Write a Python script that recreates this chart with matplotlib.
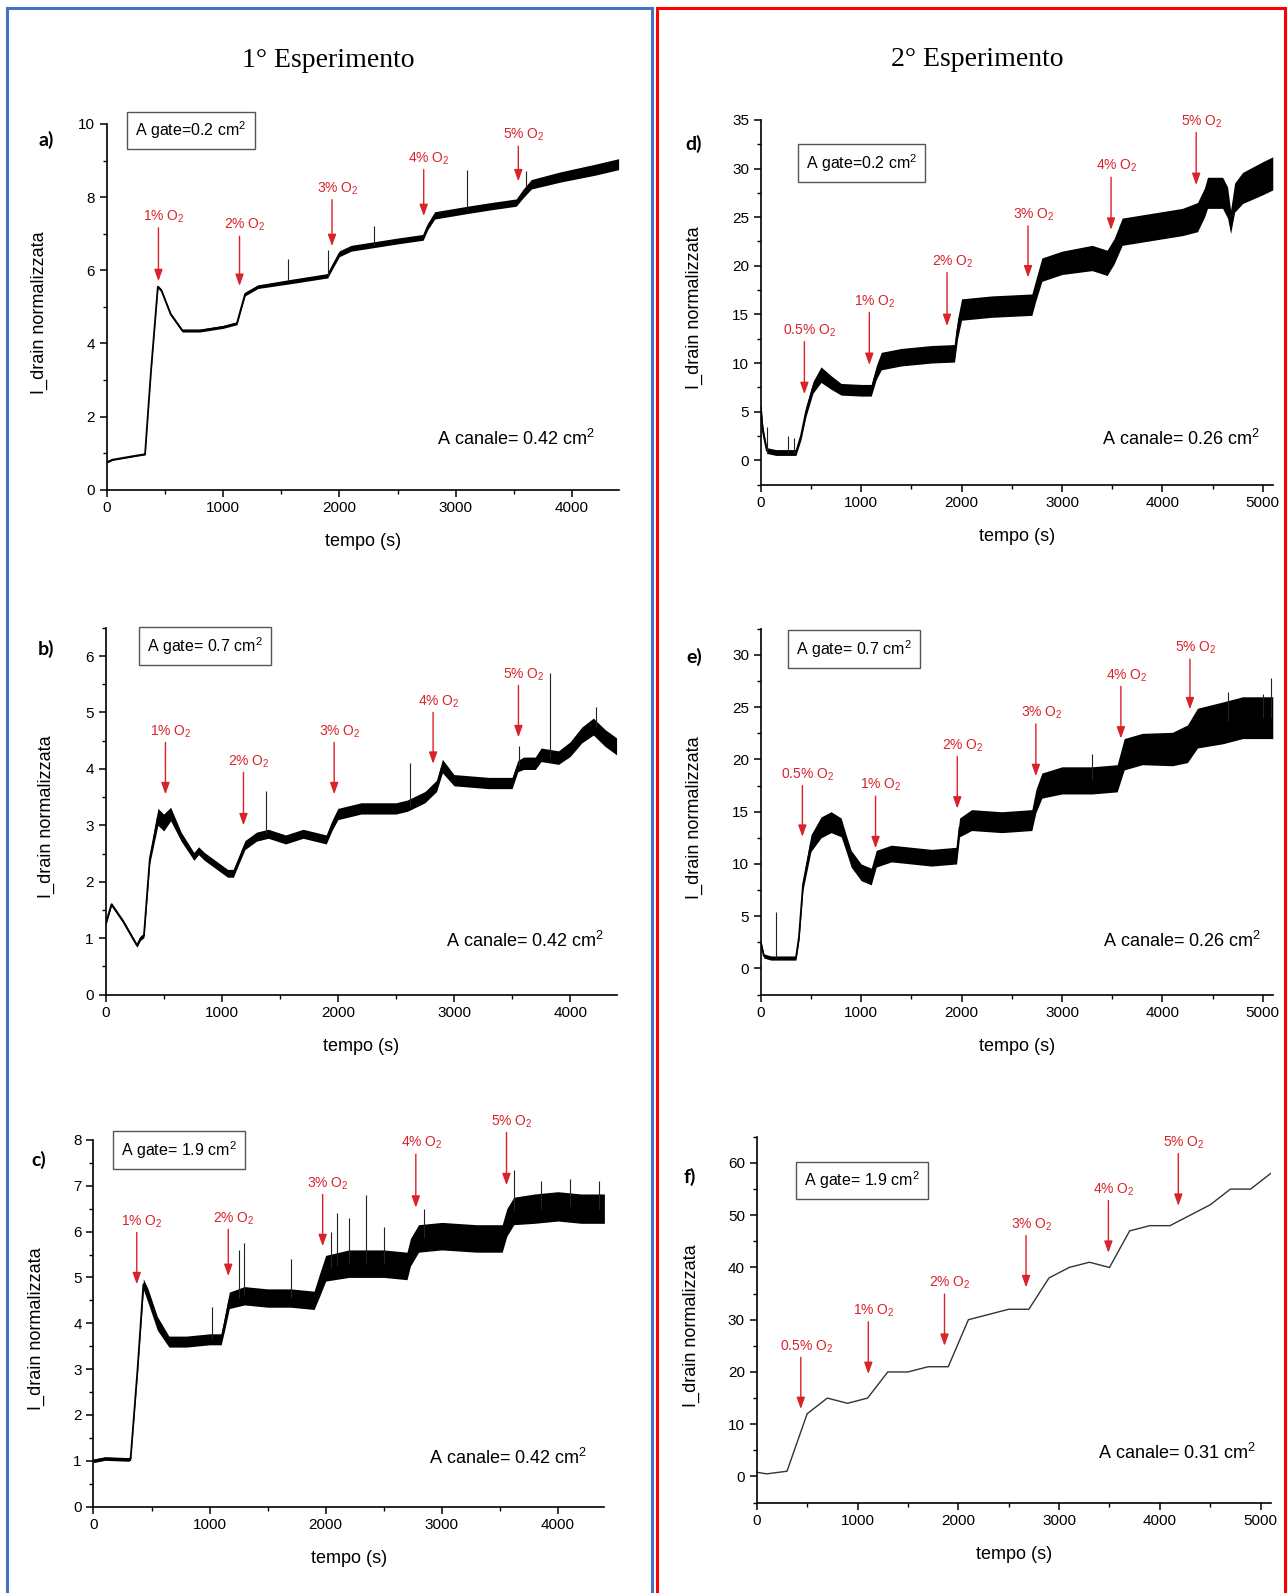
import numpy as np
import matplotlib
matplotlib.use('Agg')
import matplotlib.pyplot as plt
from matplotlib.patches import Rectangle
from matplotlib.ticker import MultipleLocator

plt.rcParams['font.family'] = ['Liberation Sans', 'DejaVu Sans']
plt.rcParams['mathtext.fontset'] = 'custom'
plt.rcParams['mathtext.rm'] = 'Liberation Sans'
plt.rcParams['mathtext.it'] = 'Liberation Sans:italic'
plt.rcParams['mathtext.default'] = 'regular'

# ---- pannello a) ----
a_t = [0, 50, 250, 330, 380, 440, 470, 550, 650, 800, 1000, 1120, 1150, 1190, 1300, 1600, 1900,
       1940, 2000, 2100, 2300, 2500, 2720, 2760, 2820, 3100, 3300, 3520, 3580, 3650, 3900, 4200, 4400]
a_i = [0.75, 0.82, 0.93, 0.97, 3.2, 5.55, 5.45, 4.8, 4.35, 4.35, 4.45, 4.55, 4.9, 5.35, 5.55, 5.7, 5.85,
       6.1, 6.45, 6.6, 6.7, 6.8, 6.9, 7.2, 7.5, 7.65, 7.75, 7.85, 8.1, 8.35, 8.55, 8.75, 8.9]
a_amp = [0.02, 0.02, 0.02, 0.02, 0.03, 0.04, 0.04, 0.04, 0.04, 0.04, 0.04, 0.04, 0.05, 0.05, 0.05, 0.06, 0.06,
         0.07, 0.08, 0.08, 0.08, 0.08, 0.08, 0.09, 0.1, 0.1, 0.1, 0.1, 0.12, 0.13, 0.14, 0.15, 0.15]
a_spk_t = [1560, 1900, 2300, 3100, 3600]
a_spk_lo = [5.7, 5.85, 6.7, 7.65, 8.3]
a_spk_hi = [6.3, 6.55, 7.2, 8.75, 8.7]
a_arr_lab = ['1% O$_2$', '2% O$_2$', '3% O$_2$', '4% O$_2$', '5% O$_2$']
a_arr_x = [445, 1142, 1937, 2725, 3538]
a_arr_top = [7.16, 6.93, 7.93, 8.75, 9.39]
a_arr_tip = [5.7, 5.57, 6.66, 7.48, 8.43]

# ---- pannello b) ----
b_t = [0, 50, 150, 270, 300, 330, 380, 450, 500, 560, 650, 760, 800, 850, 950, 1050, 1100, 1150, 1200, 1300,
       1400, 1550, 1700, 1900, 1950, 2000, 2200, 2500, 2600, 2750, 2850, 2900, 3000, 3300, 3500, 3550, 3600,
       3700, 3750, 3900, 4000, 4100, 4200, 4300, 4400]
b_i = [1.25, 1.6, 1.3, 0.87, 1.0, 1.05, 2.4, 3.15, 3.05, 3.2, 2.8, 2.45, 2.55, 2.45, 2.3, 2.15, 2.15, 2.4, 2.65, 2.8,
       2.85, 2.75, 2.85, 2.75, 3.0, 3.2, 3.3, 3.3, 3.35, 3.5, 3.7, 4.05, 3.8, 3.75, 3.75, 4.05, 4.1,
       4.1, 4.25, 4.2, 4.35, 4.6, 4.75, 4.55, 4.4]
b_amp = [0.03, 0.03, 0.03, 0.03, 0.04, 0.04, 0.08, 0.15, 0.15, 0.12, 0.08, 0.07, 0.07, 0.07, 0.07, 0.07, 0.07, 0.07, 0.08, 0.08,
         0.08, 0.08, 0.08, 0.08, 0.09, 0.1, 0.1, 0.1, 0.1, 0.1, 0.1, 0.12, 0.1, 0.1, 0.1, 0.1, 0.11,
         0.11, 0.12, 0.12, 0.13, 0.14, 0.15, 0.15, 0.15]
b_spk_t = [1380, 2620, 3560, 3830, 4220]
b_spk_lo = [2.85, 3.35, 4.05, 4.2, 4.75]
b_spk_hi = [3.6, 4.1, 4.4, 5.7, 5.1]
b_arr_lab = ['1% O$_2$', '2% O$_2$', '3% O$_2$', '4% O$_2$', '5% O$_2$']
b_arr_x = [515, 1187, 1968, 2820, 3555]
b_arr_top = [4.47, 3.94, 4.47, 5.0, 5.48]
b_arr_tip = [3.55, 3.0, 3.55, 4.09, 4.56]

# ---- pannello c) ----
c_t = [0, 100, 300, 320, 380, 430, 470, 550, 650, 800, 1000, 1100, 1130, 1170, 1300, 1500, 1700, 1900, 1950, 2000,
       2200, 2500, 2700, 2730, 2800, 3000, 3300, 3520, 3560, 3620, 3800, 4000, 4200, 4400]
c_i = [1.0, 1.05, 1.03, 1.05, 3.0, 4.85, 4.6, 4.0, 3.6, 3.6, 3.65, 3.65, 4.0, 4.5, 4.6, 4.55, 4.55, 4.5, 4.85, 5.2,
       5.3, 5.3, 5.25, 5.55, 5.85, 5.9, 5.85, 5.85, 6.2, 6.45, 6.5, 6.55, 6.5, 6.5]
c_amp = [0.04, 0.04, 0.04, 0.04, 0.05, 0.12, 0.15, 0.15, 0.12, 0.12, 0.12, 0.12, 0.15, 0.18, 0.2, 0.2, 0.2, 0.2, 0.25, 0.28,
         0.3, 0.3, 0.3, 0.3, 0.3, 0.3, 0.3, 0.3, 0.3, 0.3, 0.32, 0.32, 0.32, 0.32]
c_spk_t = [1020, 1250, 1300, 1700, 2050, 2100, 2200, 2350, 2500, 2850, 3620, 3850, 4100, 4350]
c_spk_lo = [3.65, 4.55, 4.6, 4.55, 5.2, 5.25, 5.3, 5.3, 5.3, 5.85, 6.45, 6.5, 6.55, 6.5]
c_spk_hi = [4.35, 5.6, 5.75, 5.4, 6.0, 6.4, 6.3, 6.8, 6.1, 6.5, 7.35, 7.1, 7.15, 7.1]
c_arr_lab = ['1% O$_2$', '2% O$_2$', '3% O$_2$', '4% O$_2$', '5% O$_2$']
c_arr_x = [373, 1161, 1974, 2776, 3557]
c_arr_top = [5.98, 6.05, 6.81, 7.69, 8.16]
c_arr_tip = [4.85, 5.03, 5.68, 6.52, 7.01]

# ---- pannello d) ----
d_t = [0, 20, 60, 150, 350, 400, 450, 520, 600, 700, 800, 1000, 1100, 1150, 1200, 1400, 1700, 1930, 1960, 2000,
       2300, 2700, 2740, 2800, 3000, 3300, 3450, 3520, 3600, 3900, 4200, 4350, 4420, 4450, 4600, 4650, 4680,
       4720, 4800, 5000, 5100]
d_i = [5.5, 3.0, 1.0, 0.8, 0.8, 2.5, 5.0, 7.5, 8.8, 8.0, 7.3, 7.2, 7.2, 9.0, 10.2, 10.6, 10.9, 11.0, 13.5, 15.5,
       15.8, 16.0, 17.5, 19.6, 20.3, 20.8, 20.3, 21.5, 23.5, 24.0, 24.5, 25.0, 26.5, 27.5, 27.5, 26.5, 24.5,
       27.0, 28.0, 29.0, 29.5]
d_amp = [0.3, 0.5, 0.3, 0.3, 0.3, 0.4, 0.5, 0.6, 0.8, 0.7, 0.6, 0.6, 0.6, 0.7, 0.9, 0.9, 0.9, 0.9, 1.0, 1.1,
         1.1, 1.1, 1.1, 1.2, 1.2, 1.3, 1.3, 1.3, 1.4, 1.4, 1.4, 1.5, 1.5, 1.6, 1.6, 1.6, 1.2,
         1.5, 1.6, 1.7, 1.7]
d_spk_t = [65, 270, 330]
d_spk_lo = [0.8, 0.8, 0.8]
d_spk_hi = [3.4, 2.5, 2.3]
d_arr_lab = ['0.5% O$_2$', '1% O$_2$', '2% O$_2$', '3% O$_2$', '4% O$_2$', '5% O$_2$']
d_arr_x = [434, 1081, 1855, 2662, 3489, 4337]
d_arr_top = [12.2, 15.2, 19.3, 24.1, 29.1, 33.7]
d_arr_tip = [6.8, 9.8, 13.8, 18.8, 23.7, 28.3]

# ---- pannello e) ----
e_t = [0, 30, 100, 350, 380, 420, 500, 600, 700, 800, 850, 900, 1000, 1100, 1150, 1300, 1500, 1700, 1950, 1980,
       2100, 2400, 2700, 2740, 2800, 3000, 3300, 3550, 3620, 3800, 4100, 4250, 4350, 4600, 4800, 5100]
e_i = [2.5, 1.2, 1.0, 1.0, 3.0, 8.0, 12.0, 13.5, 14.0, 13.5, 12.0, 10.5, 9.2, 8.8, 10.5, 11.0, 10.8, 10.6, 10.8, 13.5,
       14.2, 14.0, 14.2, 16.0, 17.5, 18.0, 18.0, 18.2, 20.5, 21.0, 21.0, 21.5, 23.0, 23.5, 24.0, 24.0]
e_amp = [0.2, 0.2, 0.2, 0.2, 0.3, 0.5, 0.8, 1.0, 1.0, 0.9, 0.8, 0.8, 0.8, 0.8, 0.8, 0.8, 0.8, 0.8, 0.8, 0.9,
         1.0, 1.0, 1.0, 1.1, 1.2, 1.3, 1.3, 1.3, 1.5, 1.5, 1.6, 1.8, 1.9, 2.0, 2.0, 2.0]
e_spk_t = [150, 3300, 4650, 5000, 5080]
e_spk_lo = [1.0, 18.0, 23.7, 24.0, 24.0]
e_spk_hi = [5.4, 20.5, 26.5, 26.3, 27.8]
e_arr_lab = ['0.5% O$_2$', '1% O$_2$', '2% O$_2$', '3% O$_2$', '4% O$_2$', '5% O$_2$']
e_arr_x = [414, 1143, 1957, 2740, 3587, 4275]
e_arr_top = [17.5, 16.5, 20.3, 23.4, 27.0, 29.6]
e_arr_tip = [12.6, 11.5, 15.3, 18.4, 22.0, 24.8]

# ---- pannello f) ----
f_t = [0, 100, 300, 500, 700, 900, 1100, 1300, 1500, 1700, 1900, 2100, 2300, 2500, 2700, 2900, 3100, 3300,
       3500, 3700, 3900, 4100, 4300, 4500, 4700, 4900, 5100]
f_i = [0.8, 0.5, 1, 12, 15, 14, 15, 20, 20, 21, 21, 30, 31, 32, 32, 38, 40, 41,
       40, 47, 48, 48, 50, 52, 55, 55, 58]
f_arr_lab = ['0.5% O$_2$', '1% O$_2$', '2% O$_2$', '3% O$_2$', '4% O$_2$', '5% O$_2$']
f_arr_x = [437, 1107, 1863, 2672, 3489, 4183]
f_arr_top = [22.8, 29.6, 34.9, 46.1, 52.8, 61.8]
f_arr_tip = [12.9, 19.6, 25.0, 36.2, 42.8, 51.8]

gate_lab = ['A gate=0.2 cm$^2$', 'A gate= 0.7 cm$^2$', 'A gate= 1.9 cm$^2$',
            'A gate=0.2 cm$^2$', 'A gate= 0.7 cm$^2$', 'A gate= 1.9 cm$^2$']
canale_lab = ['A canale= 0.42 cm$^2$', 'A canale= 0.42 cm$^2$', 'A canale= 0.42 cm$^2$',
              'A canale= 0.26 cm$^2$', 'A canale= 0.26 cm$^2$', 'A canale= 0.31 cm$^2$']

W, H = 1268.0, 1568.0
RED = '#d9232b'

fig = plt.figure(figsize=(12.88, 15.93), dpi=100)


def box(x0, y0, x1, y1):
    return [x0 / W, 1 - y1 / H, (x1 - x0) / W, (y1 - y0) / H]


# cornici blu e rossa
fig.patches.append(Rectangle((7 / W, -0.02), (642 - 7) / W, 1 - 8 / H + 0.02, transform=fig.transFigure,
                             fill=False, edgecolor='#4472c4', lw=2.2))
fig.patches.append(Rectangle((647 / W, -0.02), (1265 - 647) / W, 1 - 8 / H + 0.02, transform=fig.transFigure,
                             fill=False, edgecolor='#ff0000', lw=2.2))

fig.text(323 / W, 1 - 60 / H, '1° Esperimento', family='Liberation Serif', fontsize=20, ha='center', va='center')
fig.text(962 / W, 1 - 59 / H, '2° Esperimento', family='Liberation Serif', fontsize=20, ha='center', va='center')

panels = [
    dict(pos=(105, 122, 609, 482), t=a_t, i=a_i, amp=a_amp, spk=(a_spk_t, a_spk_lo, a_spk_hi),
         arr=(a_arr_lab, a_arr_x, a_arr_top, a_arr_tip), xlim=4400, ylim=(0, 10), ymaj=2, ymin=1,
         letter='a)', lpos=(45, 138), gate=(0.165, 0.982), can=(0.954, 0.138), ylx=-0.115),
    dict(pos=(104, 618, 607, 979), t=b_t, i=b_i, amp=b_amp, spk=(b_spk_t, b_spk_lo, b_spk_hi),
         arr=(b_arr_lab, b_arr_x, b_arr_top, b_arr_tip), xlim=4400, ylim=(0, 6.5), ymaj=1, ymin=0.5,
         letter='b)', lpos=(45, 639), gate=(0.194, 0.95), can=(0.976, 0.146), ylx=-0.099),
    dict(pos=(92, 1122, 595, 1483), t=c_t, i=c_i, amp=c_amp, spk=(c_spk_t, c_spk_lo, c_spk_hi),
         arr=(c_arr_lab, c_arr_x, c_arr_top, c_arr_tip), xlim=4400, ylim=(0, 8), ymaj=1, ymin=0.5,
         letter='c)', lpos=(38, 1142), gate=(0.168, 0.972), can=(0.966, 0.133), ylx=-0.095),
    dict(pos=(749, 118, 1253, 477), t=d_t, i=d_i, amp=d_amp, spk=(d_spk_t, d_spk_lo, d_spk_hi),
         arr=(d_arr_lab, d_arr_x, d_arr_top, d_arr_tip), xlim=5100, ylim=(-2.5, 35), ymaj=5, ymin=2.5,
         letter='d)', lpos=(683, 142), gate=(0.197, 0.882), can=(0.976, 0.125), ylx=-0.113),
    dict(pos=(749, 619, 1253, 979), t=e_t, i=e_i, amp=e_amp, spk=(e_spk_t, e_spk_lo, e_spk_hi),
         arr=(e_arr_lab, e_arr_x, e_arr_top, e_arr_tip), xlim=5100, ylim=(-2.5, 32.5), ymaj=5, ymin=2.5,
         letter='e)', lpos=(683, 647), gate=(0.182, 0.945), can=(0.978, 0.147), ylx=-0.113),
    dict(pos=(745, 1119, 1251, 1479), t=f_t, i=f_i, amp=None, spk=None,
         arr=(f_arr_lab, f_arr_x, f_arr_top, f_arr_tip), xlim=5100, ylim=(-5, 65), ymaj=10, ymin=5,
         letter='f)', lpos=(679, 1158), gate=(0.204, 0.881), can=(0.972, 0.135), ylx=-0.111),
]

for k, p in enumerate(panels):
    ax = fig.add_axes(box(*p['pos']))
    t = np.array(p['t'], dtype=float)
    y = np.array(p['i'], dtype=float)
    if p['amp'] is not None:
        amp = np.array(p['amp'])
        ax.fill_between(t, y - amp, y + amp, color='black', lw=0)
        ax.plot(t, y, color='black', lw=1.3)
        st, slo, shi = p['spk']
        ax.vlines(st, slo, shi, color='#222222', lw=0.8)
    else:
        ax.plot(t, y, color='#333333', lw=1.0)

    labs, ax_x, tops, tips = p['arr']
    for lab, x, top, tip in zip(labs, ax_x, tops, tips):
        ax.annotate('', xy=(x, tip), xytext=(x, top), annotation_clip=False,
                    arrowprops=dict(arrowstyle='-|>,head_length=0.7,head_width=0.25', color=RED,
                                    lw=1.0, shrinkA=0, shrinkB=0, mutation_scale=10))
        ax.annotate(lab, xy=(x, top), xytext=(4, 2), textcoords='offset points', ha='center',
                    va='bottom', color=RED, fontsize=10, annotation_clip=False)

    ax.set_xlim(0, p['xlim'])
    ax.set_ylim(*p['ylim'])
    ax.xaxis.set_major_locator(MultipleLocator(1000))
    ax.xaxis.set_minor_locator(MultipleLocator(500))
    ax.yaxis.set_major_locator(MultipleLocator(p['ymaj']))
    ax.yaxis.set_minor_locator(MultipleLocator(p['ymin']))
    ax.spines['top'].set_visible(False)
    ax.spines['right'].set_visible(False)
    for s in ('left', 'bottom'):
        ax.spines[s].set_linewidth(1.2)
    ax.tick_params(which='major', direction='out', length=5, width=1.1, labelsize=11)
    ax.tick_params(which='minor', direction='out', length=3, width=1.0)

    ax.set_xlabel('tempo (s)', fontsize=13)
    ax.xaxis.set_label_coords(0.5, -0.118)
    ax.set_ylabel('I_drain normalizzata', fontsize=13)
    ax.yaxis.set_label_coords(p['ylx'], 0.485)

    ax.text(p['gate'][0], p['gate'][1], gate_lab[k], transform=ax.transAxes, ha='center', va='center',
            fontsize=11.5, clip_on=False,
            bbox=dict(boxstyle='square,pad=0.5', facecolor='white', edgecolor='#555555', lw=1.0))
    ax.text(p['can'][0], p['can'][1], canale_lab[k], transform=ax.transAxes, ha='right', va='center',
            fontsize=13)

    fig.text(p['lpos'][0] / W, 1 - p['lpos'][1] / H, p['letter'], family='Lato', fontweight='bold',
             fontsize=14, ha='center', va='center')

fig.savefig('out.png', dpi=100)
